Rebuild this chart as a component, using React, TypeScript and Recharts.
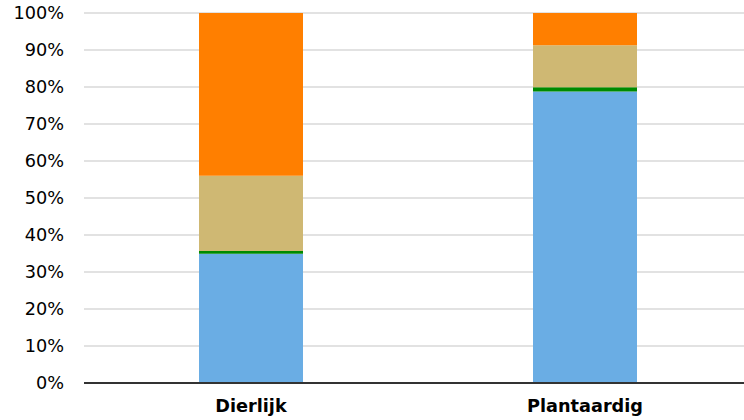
import { BarChart, Bar, XAxis, YAxis, CartesianGrid } from 'recharts'

const categories = ['Dierlijk', 'Plantaardig']
const blue = [34.9, 78.8]
const green = [0.8, 1.1]
const tan = [20.3, 11.4]
const orange = [44.0, 8.7]
const yTicks = [0, 10, 20, 30, 40, 50, 60, 70, 80, 90, 100]

const COLORS = {
  blue: '#6aade4',
  green: '#008a00',
  tan: '#cfb873',
  orange: '#ff7f00',
}

const FONT = 'Verdana, "DejaVu Sans", sans-serif'

export default function App() {
  const data = categories.map((name, i) => ({
    name,
    blue: blue[i],
    green: green[i],
    tan: tan[i],
    orange: orange[i],
  }))

  return (
    <div
      style={{
        position: 'absolute',
        top: 0,
        left: 0,
        width: 744,
        height: 420,
        overflow: 'hidden',
        background: '#fff',
      }}
    >
      <BarChart
        width={752}
        height={420}
        data={data}
        margin={{ top: 13, right: 0, bottom: 7, left: 0 }}
        barCategoryGap={0}
      >
        <CartesianGrid horizontal vertical={false} stroke="#d9d9d9" strokeWidth={1.5} />
        <XAxis
          dataKey="name"
          height={30}
          tickLine={false}
          tickMargin={10}
          axisLine={{ stroke: '#333', strokeWidth: 2 }}
          tick={{ fill: '#000', fontSize: 17.7, fontWeight: 'bold', fontFamily: FONT }}
        />
        <YAxis
          width={84}
          domain={[0, 100]}
          ticks={yTicks}
          interval={0}
          axisLine={false}
          tickLine={false}
          tickMargin={14}
          tickFormatter={(v) => `${v}%`}
          tick={{ fill: '#000', fontSize: 17.7, fontFamily: FONT }}
        />
        <Bar dataKey="blue" stackId="a" fill={COLORS.blue} barSize={104} isAnimationActive={false} />
        <Bar dataKey="green" stackId="a" fill={COLORS.green} barSize={104} isAnimationActive={false} />
        <Bar dataKey="tan" stackId="a" fill={COLORS.tan} barSize={104} isAnimationActive={false} />
        <Bar dataKey="orange" stackId="a" fill={COLORS.orange} barSize={104} isAnimationActive={false} />
      </BarChart>
    </div>
  )
}
